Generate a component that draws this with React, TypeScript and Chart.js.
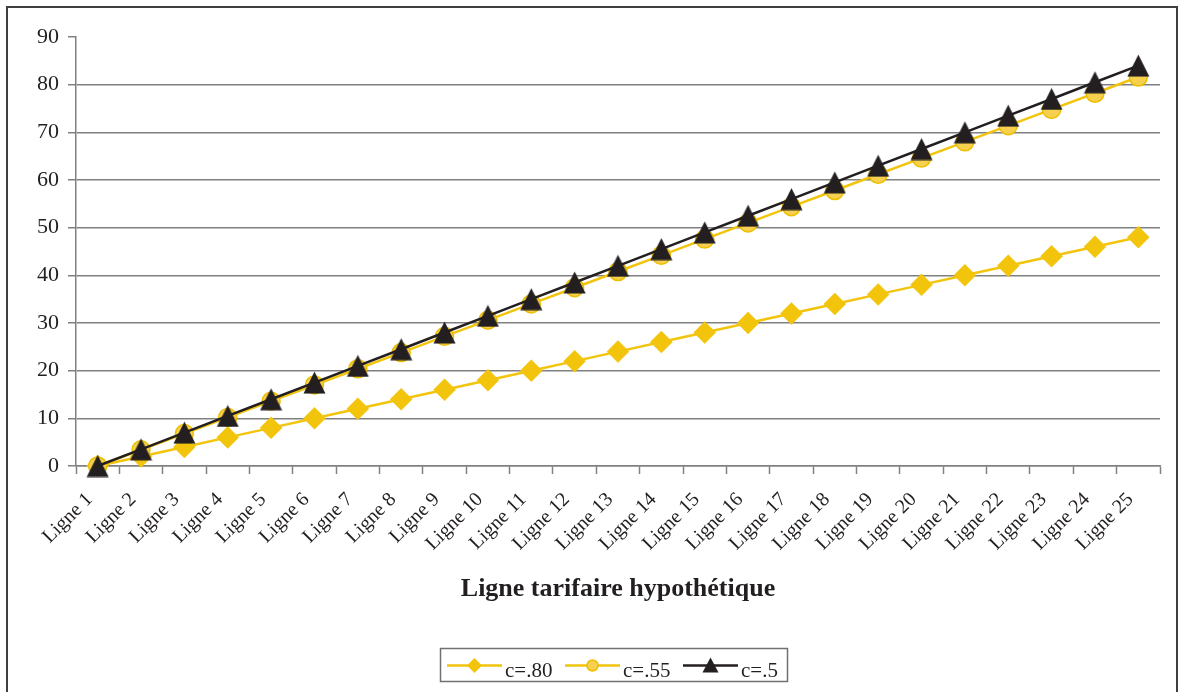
import React, { useEffect, useRef } from "react";
import { Chart, registerables } from "chart.js";

Chart.register(...registerables);

const categories = [
  "Ligne 1", "Ligne 2", "Ligne 3", "Ligne 4", "Ligne 5", "Ligne 6", "Ligne 7", "Ligne 8", "Ligne 9",
  "Ligne 10", "Ligne 11", "Ligne 12", "Ligne 13", "Ligne 14", "Ligne 15", "Ligne 16", "Ligne 17",
  "Ligne 18", "Ligne 19", "Ligne 20", "Ligne 21", "Ligne 22", "Ligne 23", "Ligne 24", "Ligne 25",
];

const seriesC80 = [0, 2, 4, 6, 8, 10, 12, 14, 16, 18, 20, 22, 24, 26, 28, 30, 32, 34, 36, 38, 40, 42, 44, 46, 48];
const seriesC55 = [0, 3.4, 6.8, 10.2, 13.6, 17, 20.4, 23.8, 27.2, 30.6, 34, 37.4, 40.8, 44.2, 47.6, 51, 54.4, 57.8, 61.2, 64.6, 68, 71.4, 74.8, 78.2, 81.6];
const seriesC5 = [0, 3.5, 7, 10.5, 14, 17.5, 21, 24.5, 28, 31.5, 35, 38.5, 42, 45.5, 49, 52.5, 56, 59.5, 63, 66.5, 70, 73.5, 77, 80.5, 84];

const seriesNames = ["c=.80", "c=.55", "c=.5"];
const yTicks = [0, 10, 20, 30, 40, 50, 60, 70, 80, 90];
const xTitle = "Ligne tarifaire hypothétique";

const YELLOW = "#F2C40C";
const YELLOW_LIGHT = "#F6D04E";
const YELLOW_DARK = "#EDBF00";
const BLACK = "#231F20";
const GRID = "#808080";
const FONT = "'Liberation Serif', 'Times New Roman', serif";

function traceTriangle(ctx: CanvasRenderingContext2D, cx: number, cy: number, w: number, h: number) {
  ctx.beginPath();
  ctx.moveTo(cx, cy - h / 2);
  ctx.lineTo(cx + w / 2, cy + h / 2);
  ctx.lineTo(cx - w / 2, cy + h / 2);
  ctx.closePath();
}

function makeTriangleImage(w: number, h: number): HTMLCanvasElement {
  const c = document.createElement("canvas");
  c.width = w;
  c.height = h;
  const ctx = c.getContext("2d") as CanvasRenderingContext2D;
  traceTriangle(ctx, w / 2, h / 2, w - 1, h - 1);
  ctx.fillStyle = BLACK;
  ctx.fill();
  return c;
}

function drawMarker(ctx: CanvasRenderingContext2D, kind: string, x: number, y: number, r: number) {
  ctx.save();
  if (kind === "diamond") {
    ctx.beginPath();
    ctx.moveTo(x - r, y);
    ctx.lineTo(x, y - r);
    ctx.lineTo(x + r, y);
    ctx.lineTo(x, y + r);
    ctx.closePath();
    ctx.fillStyle = YELLOW;
    ctx.fill();
  } else if (kind === "circle") {
    ctx.beginPath();
    ctx.arc(x, y, r, 0, Math.PI * 2);
    ctx.fillStyle = YELLOW_LIGHT;
    ctx.fill();
    ctx.lineWidth = 1.5;
    ctx.strokeStyle = YELLOW_DARK;
    ctx.stroke();
  } else {
    traceTriangle(ctx, x, y, 2 * r, 2 * r - 1);
    ctx.fillStyle = BLACK;
    ctx.fill();
  }
  ctx.restore();
}

const framePlugin = {
  id: "frameAndLegend",
  beforeDraw(chart: any) {
    const ctx = chart.ctx as CanvasRenderingContext2D;
    ctx.save();
    ctx.fillStyle = "#ffffff";
    ctx.fillRect(0, 0, chart.width, chart.height);
    ctx.strokeStyle = "#404040";
    ctx.lineWidth = 2;
    ctx.strokeRect(7, 7, 1170, 720);
    ctx.restore();
  },
  afterDraw(chart: any) {
    const ctx = chart.ctx as CanvasRenderingContext2D;
    ctx.save();
    ctx.strokeStyle = "#707070";
    ctx.lineWidth = 1.5;
    ctx.strokeRect(440.5, 648.5, 347, 33);
    const items = [
      { x1: 447, x2: 502, color: YELLOW, kind: "diamond", r: 7.5, label: seriesNames[0] },
      { x1: 565, x2: 620, color: YELLOW, kind: "circle", r: 5.5, label: seriesNames[1] },
      { x1: 683, x2: 738, color: BLACK, kind: "triangle", r: 8, label: seriesNames[2] },
    ];
    const ly = 665.5;
    ctx.font = `21px ${FONT}`;
    ctx.textBaseline = "alphabetic";
    ctx.textAlign = "left";
    for (const it of items) {
      ctx.beginPath();
      ctx.moveTo(it.x1, ly);
      ctx.lineTo(it.x2, ly);
      ctx.strokeStyle = it.color;
      ctx.lineWidth = 2.5;
      ctx.stroke();
      drawMarker(ctx, it.kind, (it.x1 + it.x2) / 2, it.kind === "triangle" ? ly - 0.5 : ly, it.r);
      ctx.fillStyle = BLACK;
      ctx.fillText(it.label, it.x2 + 3, 677);
    }
    ctx.restore();
  },
};

export default function App() {
  const canvasRef = useRef<HTMLCanvasElement | null>(null);

  useEffect(() => {
    const canvas = canvasRef.current;
    if (!canvas) return;
    Chart.defaults.font.family = FONT;
    const triangleImg = makeTriangleImage(23, 23);
    const chart = new Chart(canvas, {
      type: "line",
      data: {
        labels: categories,
        datasets: [
          {
            label: seriesNames[0],
            data: seriesC80,
            borderColor: YELLOW,
            backgroundColor: YELLOW,
            borderWidth: 2.5,
            pointStyle: "rectRot",
            pointRadius: 11,
            pointBorderWidth: 0.5,
            pointBackgroundColor: YELLOW,
            pointBorderColor: YELLOW,
            order: 3,
            clip: false,
          },
          {
            label: seriesNames[1],
            data: seriesC55,
            borderColor: YELLOW,
            backgroundColor: YELLOW_LIGHT,
            borderWidth: 2.5,
            pointStyle: "circle",
            pointRadius: 9,
            pointBorderWidth: 1.5,
            pointBackgroundColor: YELLOW_LIGHT,
            pointBorderColor: YELLOW_DARK,
            order: 2,
            clip: false,
          },
          {
            label: seriesNames[2],
            data: seriesC5,
            borderColor: BLACK,
            backgroundColor: BLACK,
            borderWidth: 2.5,
            pointStyle: triangleImg as any,
            pointRadius: 12,
            order: 1,
            clip: false,
          },
        ],
      },
      options: {
        responsive: false,
        animation: false,
        devicePixelRatio: 1,
        layout: { padding: { left: 0, top: 37, right: 20, bottom: 0 } },
        plugins: {
          legend: { display: false },
          tooltip: { enabled: false },
        },
        scales: {
          x: {
            type: "category",
            offset: true,
            grid: {
              offset: true,
              drawOnChartArea: false,
              drawTicks: true,
              tickLength: 8,
              tickColor: GRID,
              tickWidth: 1.5,
            },
            border: { display: true, color: GRID, width: 1.5 },
            ticks: {
              autoSkip: false,
              minRotation: 45,
              maxRotation: 45,
              color: BLACK,
              padding: 14,
              labelOffset: -8,
              font: { size: 20, family: FONT },
            },
            title: {
              display: true,
              text: xTitle,
              color: BLACK,
              font: { size: 26, weight: "bold", family: FONT },
              padding: { top: 0, bottom: 87 },
            },
            afterFit: (scale: any) => {
              scale.height = 226;
              scale.paddingLeft = 0;
              scale.paddingRight = 0;
            },
          },
          y: {
            min: 0,
            max: 90,
            afterBuildTicks: (scale: any) => {
              scale.ticks = yTicks.map((v) => ({ value: v }));
            },
            grid: {
              color: (c: any) => (c.tick && c.tick.value === 90 ? "rgba(0,0,0,0)" : GRID),
              lineWidth: 1.5,
              drawTicks: true,
              tickLength: 8,
              tickColor: GRID,
              tickWidth: 1.5,
            },
            border: { display: true, color: GRID, width: 1.5 },
            ticks: {
              color: BLACK,
              padding: 9,
              font: { size: 22, family: FONT },
            },
            afterFit: (scale: any) => {
              scale.width = 76;
              scale.paddingTop = 0;
              scale.paddingBottom = 0;
            },
          },
        },
      },
      plugins: [framePlugin],
    });
    return () => chart.destroy();
  }, []);

  return (
    <div style={{ position: "fixed", left: 0, top: 0, width: 1180, height: 692, background: "#fff" }}>
      <canvas ref={canvasRef} width={1180} height={692} style={{ display: "block" }} />
    </div>
  );
}
